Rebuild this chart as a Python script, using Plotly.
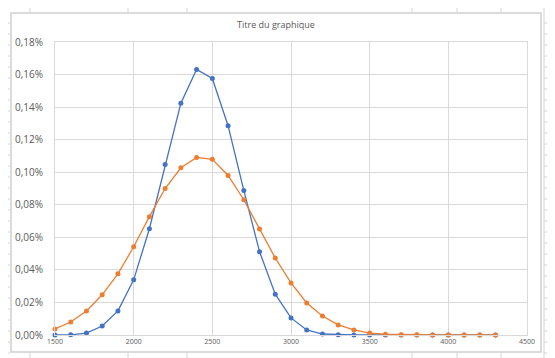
import plotly.graph_objects as go

# ---- data ----
x_values = [1500, 1600, 1700, 1800, 1900, 2000, 2100, 2200, 2300, 2400,
            2500, 2600, 2700, 2800, 2900, 3000, 3100, 3200, 3300, 3400,
            3500, 3600, 3700, 3800, 3900, 4000, 4100, 4200, 4300]
series1_pct = [0.0000, 0.0001, 0.0012, 0.0055, 0.0148, 0.0339, 0.0653, 0.1048, 0.1424, 0.1631,
               0.1576, 0.1286, 0.0888, 0.0512, 0.0251, 0.0105, 0.0031, 0.0006, 0.0001, 0.0000,
               0.0000, 0.0000, 0.0000, 0.0000, 0.0000, 0.0000, 0.0000, 0.0000, 0.0000]
series2_pct = [0.0037, 0.0080, 0.0148, 0.0247, 0.0376, 0.0542, 0.0727, 0.0900, 0.1027, 0.1091,
               0.1079, 0.0980, 0.0831, 0.0651, 0.0473, 0.0320, 0.0197, 0.0117, 0.0062, 0.0031,
               0.0012, 0.0005, 0.0002, 0.0001, 0.0000, 0.0000, 0.0000, 0.0000, 0.0000]
x_ticks = [1500, 2000, 2500, 3000, 3500, 4000, 4500]
y_ticks = [0.00, 0.02, 0.04, 0.06, 0.08, 0.10, 0.12, 0.14, 0.16, 0.18]
y_tick_labels = ["0,00%", "0,02%", "0,04%", "0,06%", "0,08%", "0,10%",
                 "0,12%", "0,14%", "0,16%", "0,18%"]
title_text = "Titre du graphique"

W, H = 555, 358
L, R, T, B = 47, 519, 34, 327  # plot area in pixels


def px(xp):
    return (xp - L) / (R - L)


def py(yp):
    return (B - yp) / (B - T)


fig = go.Figure()
fig.add_trace(go.Scatter(
    x=x_values, y=series1_pct, mode="lines+markers",
    line=dict(color="#4472C4", width=1.3),
    marker=dict(color="#4472C4", size=5),
    showlegend=False, cliponaxis=False))
fig.add_trace(go.Scatter(
    x=x_values, y=series2_pct, mode="lines+markers",
    line=dict(color="#ED7D31", width=1.3),
    marker=dict(color="#ED7D31", size=5),
    showlegend=False, cliponaxis=False))

grid = "#d9d9d9"
sheet = "#d4d4d4"
shapes = []
# chart area border
shapes.append(dict(type="rect", xref="paper", yref="paper",
                   x0=px(3), x1=px(533), y0=py(344), y1=py(5),
                   line=dict(color="#cfcfcf", width=1.5), layer="below"))
# spreadsheet cell lines outside the chart
for cx in [22, 120, 179, 404, 449, 493]:
    shapes.append(dict(type="line", xref="paper", yref="paper",
                       x0=px(cx), x1=px(cx), y0=py(0), y1=py(4),
                       line=dict(color=sheet, width=1)))
    shapes.append(dict(type="line", xref="paper", yref="paper",
                       x0=px(cx), x1=px(cx), y0=py(345), y1=py(358),
                       line=dict(color=sheet, width=1)))
shapes.append(dict(type="line", xref="paper", yref="paper",
                   x0=px(536), x1=px(536), y0=py(0), y1=py(358),
                   line=dict(color=sheet, width=1)))
for ry in range(15, 358, 11):
    shapes.append(dict(type="line", xref="paper", yref="paper",
                       x0=px(536), x1=px(555), y0=py(ry), y1=py(ry),
                       line=dict(color=sheet, width=1)))
    shapes.append(dict(type="line", xref="paper", yref="paper",
                       x0=px(0), x1=px(2), y0=py(ry), y1=py(ry),
                       line=dict(color=sheet, width=1)))

fig.update_layout(
    width=W, height=H,
    margin=dict(l=L, r=W - R, t=T, b=H - B, pad=0, autoexpand=False),
    paper_bgcolor="white", plot_bgcolor="white",
    separators=", ",
    title=dict(text=title_text, x=px(268), xref="paper", xanchor="center",
               y=1 - 17 / H, yanchor="middle",
               font=dict(family="Open Sans", size=9, color="#595959")),
    shapes=shapes,
    font=dict(family="Open Sans", color="#595959"),
)
fig.update_xaxes(range=[1500, 4500], tickvals=x_ticks,
                 ticktext=[str(v) for v in x_ticks], automargin=False,
                 showgrid=True, gridcolor=grid, gridwidth=1,
                 showline=True, linecolor=grid, linewidth=1, mirror=True,
                 zeroline=False, ticks="",
                 tickfont=dict(size=7, color="#595959"))
fig.update_yaxes(range=[0, 0.18], tickvals=y_ticks, ticktext=y_tick_labels,
                 automargin=False,
                 showgrid=True, gridcolor=grid, gridwidth=1,
                 showline=True, linecolor=grid, linewidth=1, mirror=True,
                 zeroline=False, ticks="", ticklabelstandoff=9,
                 tickfont=dict(size=10, color="#595959"))

fig.write_html("out.html")
